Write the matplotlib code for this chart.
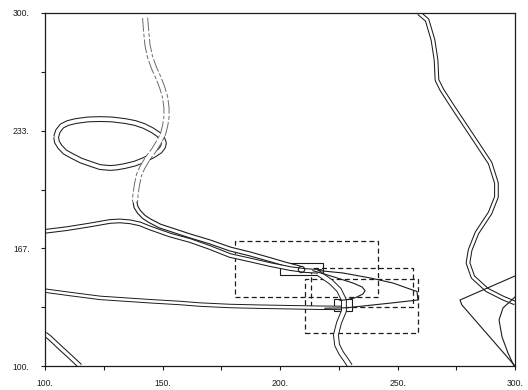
import matplotlib.pyplot as plt
from matplotlib.patches import Rectangle

plt.rcParams['font.family'] = ['Liberation Sans', 'DejaVu Sans']

# closed loop, upper left
loop_x = [104.7, 105.5, 107.2, 109.8, 113.2, 118.3, 123.4, 128.5, 134.0, 138.3, 142.1,
          145.5, 148.1, 149.8, 150.6, 150.2, 148.9, 146.0, 142.1, 138.3, 134.0, 130.6,
          127.7, 123.4, 119.6, 115.3, 111.5, 108.5, 106.4, 105.1, 104.7]
loop_y = [229.7, 233.1, 236.0, 237.7, 238.8, 239.7, 239.9, 239.7, 238.8, 237.7, 236.0,
          233.7, 231.4, 229.2, 226.3, 224.1, 221.8, 219.3, 216.7, 214.7, 213.3, 212.5,
          212.2, 212.7, 214.4, 216.4, 219.0, 221.2, 224.1, 226.9, 229.7]

# wavy contour coming down from the top (faint part, then solid part)
wave_top_x = [142.6, 143.0, 143.6, 144.7, 146.4, 148.3, 149.8, 151.1, 151.7, 151.7,
              151.1, 150.2, 148.5, 146.4, 143.8, 141.5, 140.0, 139.1, 138.5, 138.3]
wave_top_y = [297.2, 290.4, 281.9, 275.1, 268.8, 263.2, 258.1, 252.4, 246.2, 241.1,
              236.0, 231.4, 226.9, 222.4, 217.8, 212.7, 208.2, 202.5, 196.9, 192.9]
wave_low_x = [138.3, 138.7, 140.0, 142.1, 144.7, 148.9, 155.3, 161.7, 170.2, 178.7,
              187.2, 195.7, 202.1, 208.5]
wave_low_y = [192.9, 190.1, 187.3, 184.4, 182.2, 179.3, 176.5, 173.7, 170.3, 166.3,
              163.5, 160.3, 157.8, 155.5]

# contour entering from the left edge near y=176
upper_x = [100.0, 109.2, 119.1, 127.7, 131.9, 136.2, 140.4, 144.7, 153.2, 161.7,
           170.2, 178.7, 187.2, 195.7, 204.3, 210.6, 217.9]
upper_y = [176.3, 177.8, 179.9, 181.9, 182.2, 181.7, 180.5, 178.2, 174.2, 171.1,
           167.1, 162.6, 160.1, 157.5, 155.2, 154.1, 153.5]

# long contour entering from the left edge near y=143
lower_x = [100.0, 110.6, 123.4, 144.7, 157.4, 166.0, 178.7, 191.5, 204.3, 217.0, 227.7]
lower_y = [142.7, 140.8, 138.6, 136.7, 135.7, 134.8, 134.0, 133.6, 133.3, 133.0, 132.9]

# contour dropping to the bottom axis
drop_x = [216.2, 221.7, 225.1, 227.2, 227.2, 225.1, 223.8, 224.3, 226.0, 228.1, 229.8]
drop_y = [152.7, 147.6, 143.1, 137.4, 131.2, 124.4, 117.6, 111.9, 107.4, 103.4, 100.0]

# right hand contour from top to right edge
right_x = [259.1, 262.6, 265.1, 266.4, 266.8, 268.9, 273.6, 282.1, 289.4, 292.1,
           292.1, 289.4, 283.8, 280.9, 280.0, 282.1, 288.1, 294.9, 300.0]
right_y = [300.0, 296.0, 284.7, 273.4, 262.0, 256.4, 246.7, 229.7, 215.0, 203.7,
           195.8, 186.7, 175.4, 165.7, 158.4, 150.4, 143.1, 138.5, 135.7]

# lower left corner contour
corner_x = [100.0, 102.1, 106.4, 110.6, 114.9]
corner_y = [118.1, 115.9, 110.5, 105.4, 100.0]

# single lines: nose tip, inner nose, right edge wedge and arc
nose_x = [216.2, 226.8, 238.3, 248.1, 254.0, 258.3, 258.7, 248.1, 238.3, 228.5, 219.1]
nose_y = [154.1, 152.7, 149.9, 147.0, 144.2, 142.2, 137.4, 135.8, 134.4, 133.0, 132.7]
inner_x = [214.0, 222.6, 231.1, 234.9, 236.2, 235.3, 232.3, 228.9, 225.5]
inner_y = [154.0, 150.6, 147.0, 144.8, 142.7, 140.8, 138.8, 137.7, 137.1]
wedge_x = [300.0, 276.6, 277.4, 300.0]
wedge_y = [151.0, 137.4, 134.6, 100.0]
arc_x = [300.0, 294.9, 293.2, 294.5, 297.0, 299.6]
arc_y = [139.1, 132.9, 126.1, 116.4, 107.4, 100.0]

# boxes: x0, x1, y0, y1
dashed_boxes = [(181.0, 241.7, 139.1, 170.8),
                (210.6, 258.7, 118.7, 149.3),
                (213.2, 256.6, 133.4, 155.5)]
solid_boxes = [(200.0, 218.3, 151.6, 158.6),
               (223.0, 230.6, 131.2, 138.0)]
point_x = [209.1]
point_y = [155.2]

x_ticks = [100, 125, 150, 175, 200, 225, 250, 275, 300]
x_labels = ['100.', '', '150.', '', '200.', '', '250.', '', '300.']
y_ticks = [100, 133.3, 166.7, 200, 233.3, 266.7, 300]
y_labels = ['100.', '', '167.', '', '233.', '', '300.']

INK = '#1c1c1c'

fig = plt.figure(figsize=(5.28, 3.9), dpi=100)
ax = fig.add_axes([45 / 528, 24 / 390, 470 / 528, 353 / 390])


def double_line(x, y, outer=3.4, inner=1.9, color=INK, ls='-'):
    # a dark stroke with a white core gives the paired contour look
    ax.plot(x, y, color=color, lw=outer, ls=ls, solid_capstyle='butt',
            dash_capstyle='butt', solid_joinstyle='round')
    ax.plot(x, y, color='white', lw=inner, solid_capstyle='butt', solid_joinstyle='round')


def single_line(x, y):
    ax.plot(x, y, color=INK, lw=0.8, solid_joinstyle='round')


double_line(loop_x, loop_y, outer=4.2, inner=2.7)
double_line(wave_top_x, wave_top_y, outer=4.4, inner=3.0, color='#6a6a6a',
            ls=(0, (2.2, 0.35, 0.6, 0.35)))
double_line(wave_low_x, wave_low_y, outer=3.6, inner=2.0)
double_line(upper_x, upper_y)
double_line(lower_x, lower_y, outer=3.2, inner=1.8)
double_line(drop_x, drop_y, outer=4.2, inner=2.8)
double_line(right_x, right_y)
double_line(corner_x, corner_y, outer=3.8, inner=2.3)

single_line(nose_x, nose_y)
single_line(inner_x, inner_y)
single_line(wedge_x, wedge_y)
single_line(arc_x, arc_y)

for x0, x1, y0, y1 in dashed_boxes:
    ax.add_patch(Rectangle((x0, y0), x1 - x0, y1 - y0, fill=False, ec=INK,
                           lw=0.9, ls=(0, (4, 2.5))))
for x0, x1, y0, y1 in solid_boxes:
    ax.add_patch(Rectangle((x0, y0), x1 - x0, y1 - y0, fill=False, ec=INK, lw=0.8))
ax.plot(point_x, point_y, 'o', mfc='none', mec=INK, ms=4.5, mew=0.8)

ax.set_xlim(100, 300)
ax.set_ylim(100, 300)
ax.set_xticks(x_ticks)
ax.set_xticklabels(x_labels)
ax.set_yticks(y_ticks)
ax.set_yticklabels(y_labels)
ax.tick_params(axis='both', direction='out', length=3, width=0.8, colors=INK,
               labelsize=6.2)
ax.tick_params(axis='x', pad=6)
ax.tick_params(axis='y', pad=8)
for side in ax.spines.values():
    side.set_color(INK)
    side.set_linewidth(0.9)

fig.savefig('out.png', dpi=100)
